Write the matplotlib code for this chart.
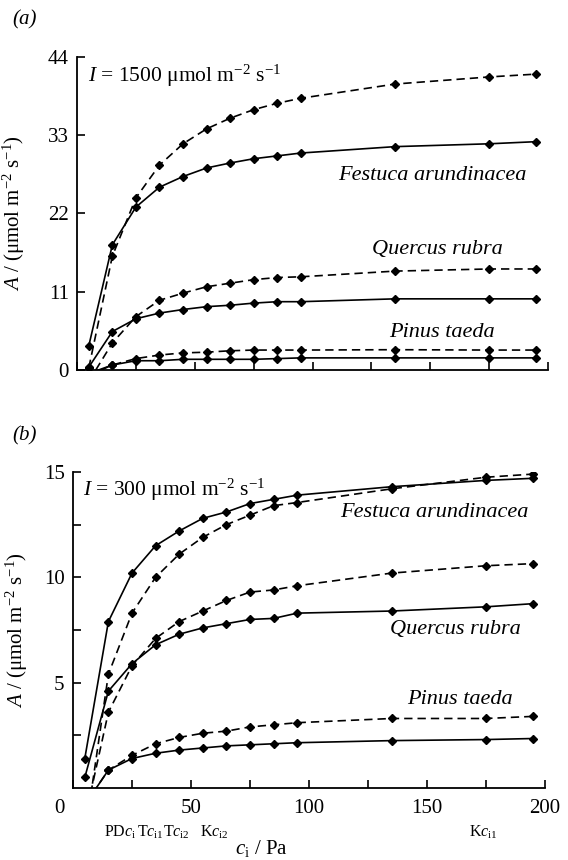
import matplotlib
matplotlib.use('Agg')
from matplotlib import pyplot as plt
import matplotlib.transforms as mtransforms

plt.rcParams['font.family'] = ['Liberation Serif', 'DejaVu Serif']
plt.rcParams['mathtext.fontset'] = 'custom'
plt.rcParams['mathtext.rm'] = 'Liberation Serif'
plt.rcParams['mathtext.it'] = 'Liberation Serif:italic'

# intercellular CO2 (Pa)
ci = [5, 15, 25, 35, 45, 55, 65, 75, 85, 95, 135, 175, 195]

# (a) I = 1500
fa_a_solid = [3.4, 17.6, 22.9, 25.7, 27.2, 28.4, 29.1, 29.7, 30.1, 30.5, 31.4, 31.8, 32.1]
fa_a_dash = [0.3, 16.0, 24.2, 28.8, 31.8, 33.9, 35.4, 36.6, 37.5, 38.2, 40.2, 41.2, 41.6]
qr_a_solid = [0.4, 5.4, 7.2, 8.0, 8.5, 8.9, 9.1, 9.4, 9.6, 9.6, 10.0, 10.0, 10.0]
qr_a_dash = [-1.6, 3.8, 7.5, 9.8, 10.8, 11.7, 12.2, 12.7, 13.0, 13.1, 13.9, 14.2, 14.2]
pt_a_solid = [-0.5, 0.7, 1.3, 1.3, 1.5, 1.5, 1.5, 1.5, 1.6, 1.7, 1.7, 1.7, 1.7]
pt_a_dash = [-0.8, 0.7, 1.6, 2.1, 2.4, 2.5, 2.7, 2.8, 2.8, 2.8, 2.85, 2.8, 2.8]

# (b) I = 300
fa_b_solid = [1.4, 7.9, 10.2, 11.5, 12.2, 12.8, 13.1, 13.5, 13.7, 13.9, 14.3, 14.6, 14.7]
fa_b_dash = [-2.3, 5.4, 8.3, 10.0, 11.1, 11.9, 12.5, 12.95, 13.4, 13.55, 14.2, 14.75, 14.9]
qr_b_solid = [0.5, 4.6, 5.9, 6.8, 7.3, 7.6, 7.8, 8.0, 8.05, 8.3, 8.4, 8.6, 8.75]
qr_b_dash = [-1.5, 3.6, 5.8, 7.1, 7.9, 8.4, 8.9, 9.3, 9.4, 9.6, 10.2, 10.55, 10.65]
pt_b_solid = [-0.8, 0.85, 1.4, 1.65, 1.8, 1.9, 2.0, 2.05, 2.1, 2.15, 2.25, 2.3, 2.35]
pt_b_dash = [-0.8, 0.85, 1.55, 2.1, 2.4, 2.6, 2.7, 2.9, 3.0, 3.1, 3.3, 3.3, 3.4]

# ci marks under the x axis
mark_x = [20, 33, 44, 60, 174]
mark_lab = [r'PD$c_\mathrm{i}$', r'T$c_\mathrm{i1}$', r'T$c_\mathrm{i2}$',
            r'K$c_\mathrm{i2}$', r'K$c_\mathrm{i1}$']

fig = plt.figure(figsize=(5.68, 8.6), dpi=100)
axA = fig.add_axes([0.1356, 0.5698, 0.8294, 0.3639])
axB = fig.add_axes([0.1285, 0.0837, 0.831, 0.3675])

def curve(ax, y, ls):
    ax.plot(ci, y, color='k', lw=1.2, ls=ls, marker='D', ms=4.5,
            dashes=(5, 3) if ls == '--' else (None, None))

def style(ax):
    for s in ['top', 'right']:
        ax.spines[s].set_visible(False)
    for s in ['left', 'bottom']:
        ax.spines[s].set_linewidth(1.3)
    ax.tick_params(direction='in', length=6, width=1.2, labelsize=15, pad=6)
    ax.tick_params(which='minor', direction='in', length=6, width=1.2)
    ax.set_xlim(0, 200)

for y, ls in [(fa_a_solid, '-'), (fa_a_dash, '--'), (qr_a_solid, '-'), (qr_a_dash, '--'),
              (pt_a_solid, '-'), (pt_a_dash, '--')]:
    curve(axA, y, ls)
for y, ls in [(fa_b_solid, '-'), (fa_b_dash, '--'), (qr_b_solid, '-'), (qr_b_dash, '--'),
              (pt_b_solid, '-'), (pt_b_dash, '--')]:
    curve(axB, y, ls)

style(axA)
axA.set_ylim(0, 44)
axA.set_yticks([0, 11, 22, 33, 44])
axA.set_xticks(range(0, 201, 25))
axA.set_xticklabels([])
axA.set_ylabel(r'$A$ / ($\mathrm{\mu}$mol m$^{-2}$ s$^{-1}$)', fontsize=15)
axA.yaxis.set_label_coords(-0.106, 0.5)

style(axB)
axB.set_ylim(0, 15)
axB.set_yticks([5, 10, 15])
axB.set_yticks([2.5, 7.5, 12.5], minor=True)
axB.set_xticks([0, 50, 100, 150, 200])
axB.set_xticks([25, 75, 125, 175], minor=True)
axB.tick_params(axis='x', pad=8)
# the "0" sits left of the corner in the original
lbl0 = axB.get_xticklabels()[0]
lbl0.set_transform(lbl0.get_transform() + mtransforms.ScaledTranslation(-0.14, 0, fig.dpi_scale_trans))
axB.set_ylabel(r'$A$ / ($\mathrm{\mu}$mol m$^{-2}$ s$^{-1}$)', fontsize=15)
axB.yaxis.set_label_coords(-0.091, 0.5)
axB.set_xlabel(r'$c_\mathrm{i}$ / Pa', fontsize=15, labelpad=2)
axB.xaxis.set_label_coords(0.4, -0.158)

for xm, lab in zip(mark_x, mark_lab):
    axB.text(xm, -0.14, lab, transform=axB.get_xaxis_transform(), ha='center', va='center', fontsize=11.5)

fig.text(0.021, 0.977, '(a)', fontsize=15, style='italic', va='center')
fig.text(0.021, 0.493, '(b)', fontsize=15, style='italic', va='center')

axA.text(0.023, 0.94, r'$I$ = 1500 $\mathrm{\mu}$mol m$^{-2}$ s$^{-1}$', transform=axA.transAxes, fontsize=15.5, va='center')
axB.text(0.022, 0.943, r'$I$ = 300 $\mathrm{\mu}$mol m$^{-2}$ s$^{-1}$', transform=axB.transAxes, fontsize=15.5, va='center')

sp_kw = dict(style='italic', fontsize=16, ha='center', va='center')
axA.text(151, 27.4, 'Festuca arundinacea', **sp_kw)
axA.text(153, 16.9, 'Quercus rubra', **sp_kw)
axA.text(155, 5.3, 'Pinus taeda', **sp_kw)
axB.text(153, 13.1, 'Festuca arundinacea', **sp_kw)
axB.text(162, 7.5, 'Quercus rubra', **sp_kw)
axB.text(164, 4.2, 'Pinus taeda', **sp_kw)

fig.savefig('out.png', dpi=100)
